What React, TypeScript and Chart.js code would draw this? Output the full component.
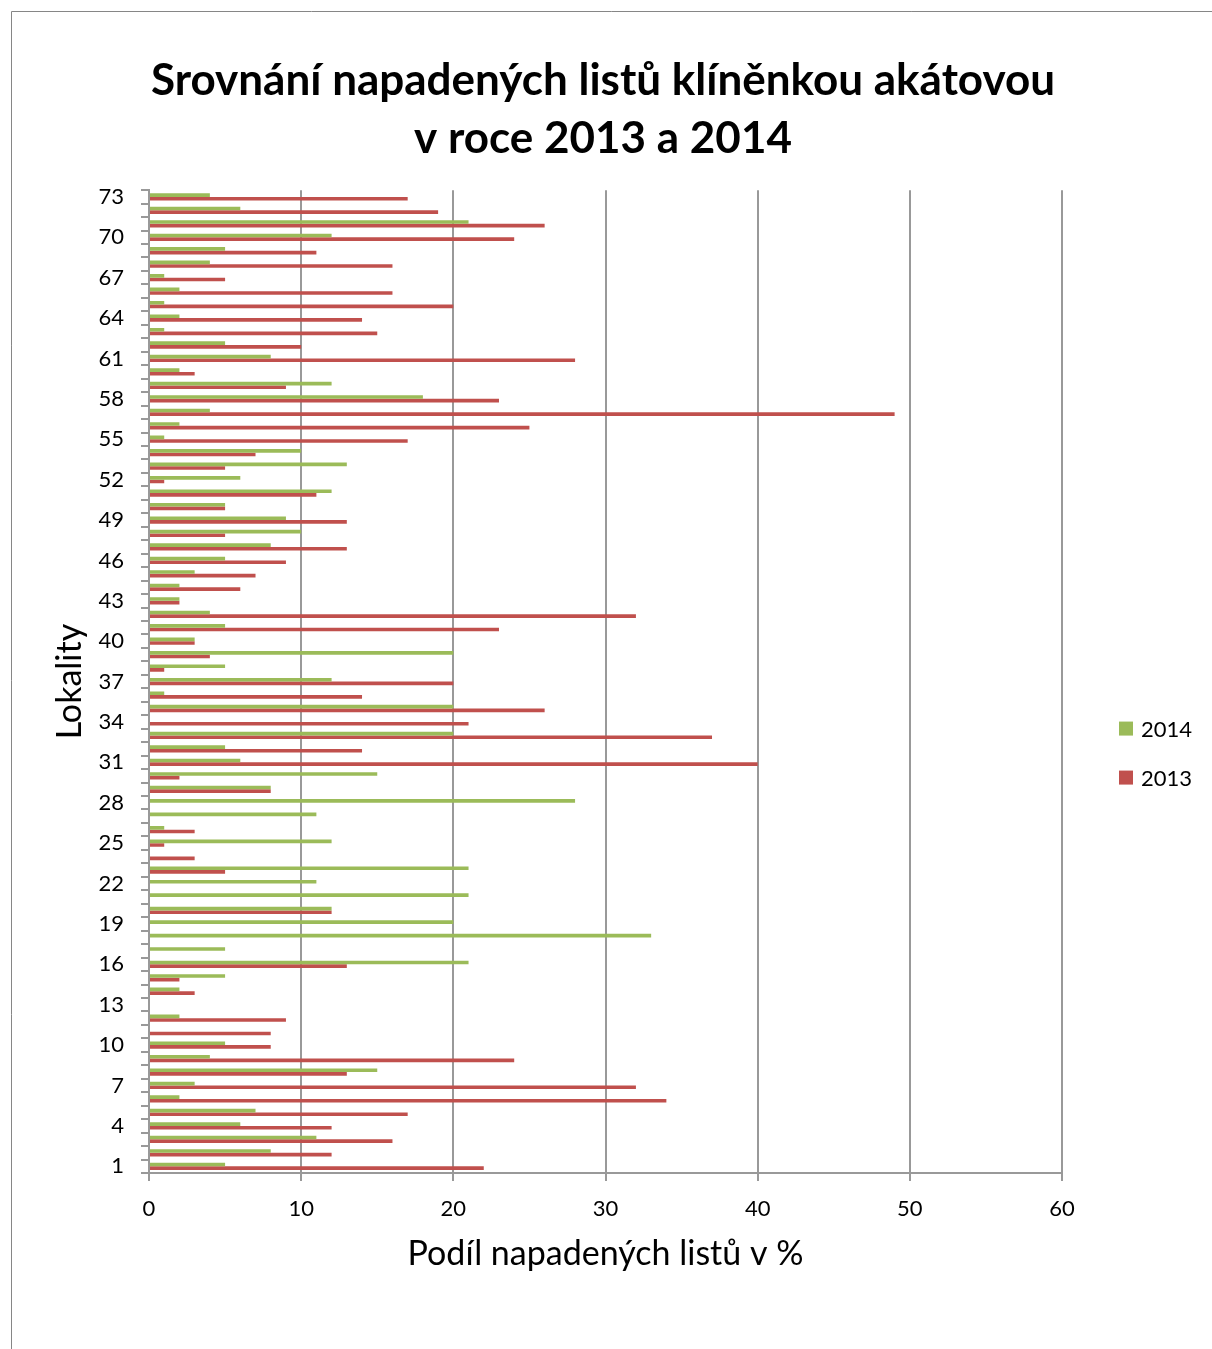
import { useEffect, useRef } from "react";
import { Chart, registerables } from "chart.js";

Chart.register(...registerables);

// Lokality 1–73 (bottom to top on the chart)
const lokality = [
  "1", "2", "3", "4", "5", "6", "7", "8", "9", "10",
  "11", "12", "13", "14", "15", "16", "17", "18", "19", "20",
  "21", "22", "23", "24", "25", "26", "27", "28", "29", "30",
  "31", "32", "33", "34", "35", "36", "37", "38", "39", "40",
  "41", "42", "43", "44", "45", "46", "47", "48", "49", "50",
  "51", "52", "53", "54", "55", "56", "57", "58", "59", "60",
  "61", "62", "63", "64", "65", "66", "67", "68", "69", "70",
  "71", "72", "73",
];

// Podíl napadených listů v % – rok 2014
const podil2014 = [
  5, 8, 11, 6, 7, 2, 3, 15, 4, 5,
  0, 2, 0, 2, 5, 21, 5, 33, 20, 12,
  21, 11, 21, 0, 12, 1, 11, 28, 8, 15,
  6, 5, 20, 0, 20, 1, 12, 5, 20, 3,
  5, 4, 2, 2, 3, 5, 8, 10, 9, 5,
  12, 6, 13, 10, 1, 2, 4, 18, 12, 2,
  8, 5, 1, 2, 1, 2, 1, 4, 5, 12,
  21, 6, 4,
];

// Podíl napadených listů v % – rok 2013
const podil2013 = [
  22, 12, 16, 12, 17, 34, 32, 13, 24, 8,
  8, 9, 0, 3, 2, 13, 0, 0, 0, 12,
  0, 0, 5, 3, 1, 3, 0, 0, 8, 2,
  40, 14, 37, 21, 26, 14, 20, 1, 4, 3,
  23, 32, 2, 6, 7, 9, 13, 5, 13, 5,
  11, 1, 5, 7, 17, 25, 49, 23, 9, 3,
  28, 10, 15, 14, 20, 16, 5, 16, 11, 24,
  26, 19, 17,
];

const seriesLabels = ["2014", "2013"];
const seriesColors = ["#9BBB59", "#C0504D"];

const titleLines = ["Srovnání napadených listů klíněnkou akátovou", "v roce 2013 a 2014"];
const xAxisTitle = "Podíl napadených listů v %";
const yAxisTitle = "Lokality";

const FONT = "Lato, 'Open Sans', sans-serif";
const GRID = "#999999";

// Outer frame lines of the chart object
const framePlugin = {
  id: "frame",
  beforeDraw(chart: any) {
    const { ctx, width, height } = chart;
    ctx.save();
    ctx.fillStyle = "#ffffff";
    ctx.fillRect(0, 0, width, height);
    ctx.strokeStyle = "#868686";
    ctx.lineWidth = 1;
    ctx.beginPath();
    ctx.moveTo(11.5, height);
    ctx.lineTo(11.5, 11.5);
    ctx.lineTo(width, 11.5);
    ctx.stroke();
    ctx.restore();
  },
};

// Legend placed to the right of the plot area
const sideLegendPlugin = {
  id: "sideLegend",
  afterDraw(chart: any) {
    const { ctx, chartArea } = chart;
    const x = chartArea.right + 57;
    const y0 = (chartArea.top + chartArea.bottom) / 2 + 40;
    ctx.save();
    ctx.font = `22px ${FONT}`;
    ctx.textBaseline = "middle";
    ctx.textAlign = "left";
    chart.data.datasets.forEach((ds: any, i: number) => {
      const top = y0 + i * 49;
      ctx.fillStyle = ds.backgroundColor;
      ctx.fillRect(x, top, 14, 14);
      ctx.fillStyle = "#000000";
      ctx.fillText(ds.label, x + 22, top + 8);
    });
    ctx.restore();
  },
};

export default function App() {
  const canvasRef = useRef<HTMLCanvasElement | null>(null);

  useEffect(() => {
    if (!canvasRef.current) return;
    const chart = new Chart(canvasRef.current, {
      type: "bar",
      data: {
        labels: lokality,
        datasets: [
          {
            label: seriesLabels[0],
            data: podil2014,
            backgroundColor: seriesColors[0],
            borderWidth: 0,
            categoryPercentage: 0.54,
            barPercentage: 1,
          },
          {
            label: seriesLabels[1],
            data: podil2013,
            backgroundColor: seriesColors[1],
            borderWidth: 0,
            categoryPercentage: 0.54,
            barPercentage: 1,
          },
        ],
      },
      options: {
        indexAxis: "y",
        responsive: false,
        animation: false,
        devicePixelRatio: 1,
        layout: { padding: { left: 0, right: 6, top: 0, bottom: 0 } },
        plugins: {
          legend: { display: false },
          tooltip: { enabled: false },
          title: {
            display: true,
            text: titleLines,
            color: "#000000",
            font: { family: FONT, size: 44, weight: "bold", lineHeight: 1.32 },
            padding: { top: 52, bottom: 22 },
          },
        },
        scales: {
          x: {
            type: "linear",
            min: 0,
            max: 60,
            ticks: {
              stepSize: 10,
              color: "#000000",
              font: { family: FONT, size: 22 },
              padding: 15,
            },
            grid: { color: GRID, lineWidth: 2, tickLength: 8, tickColor: GRID },
            border: { color: GRID, width: 2 },
            title: {
              display: true,
              text: xAxisTitle,
              color: "#000000",
              font: { family: FONT, size: 34, lineHeight: 1.2 },
              padding: { top: 0, bottom: 75 },
            },
            afterFit: (scale: any) => {
              scale.height = 176;
            },
          },
          y: {
            type: "category",
            reverse: true,
            ticks: {
              autoSkip: false,
              color: "#000000",
              font: { family: FONT, size: 22 },
              padding: 17,
              callback: function (this: any, value: any, index: number) {
                return index % 3 === 0 ? this.getLabelForValue(value) : "";
              },
            },
            grid: {
              drawOnChartArea: false,
              offset: true,
              tickLength: 8,
              color: GRID,
              tickColor: GRID,
              lineWidth: 2,
            },
            border: { color: GRID, width: 2 },
            title: {
              display: true,
              text: yAxisTitle,
              color: "#000000",
              font: { family: FONT, size: 34, lineHeight: 1.2 },
              padding: { top: 50, bottom: 0 },
            },
            afterFit: (scale: any) => {
              scale.width = 149;
            },
          },
          // empty right-hand axis reserving the legend column
          legendSpace: {
            type: "category",
            position: "right",
            display: true,
            ticks: { display: false },
            grid: { display: false, drawTicks: false },
            border: { display: false },
            afterFit: (scale: any) => {
              scale.width = 144;
            },
          },
        },
      },
      plugins: [framePlugin, sideLegendPlugin],
    });
    return () => chart.destroy();
  }, []);

  return (
    <div
      style={{
        position: "fixed",
        left: 0,
        top: 0,
        width: 1212,
        height: 1349,
        overflow: "hidden",
        background: "#ffffff",
      }}
    >
      <canvas ref={canvasRef} width={1212} height={1349} style={{ display: "block" }} />
    </div>
  );
}
